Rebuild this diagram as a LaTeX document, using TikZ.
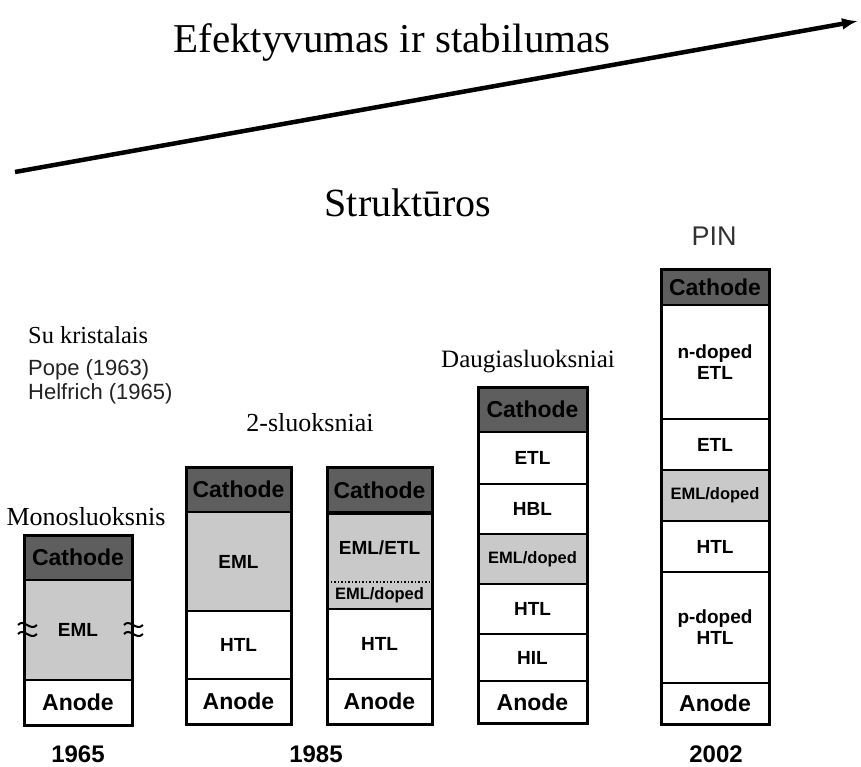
\documentclass[tikz,border=0pt]{standalone}
\usepackage{fontspec}
\setmainfont{Liberation Serif}
\newfontfamily\sansf{Liberation Sans}
\usetikzlibrary{arrows.meta}
\definecolor{cathgray}{HTML}{5E5E5E}
\definecolor{emlgray}{HTML}{C9C9C9}
\definecolor{txtgray}{HTML}{222222}
\newcommand\mklayer[7]{\node[#2, minimum width=#5pt, minimum height=#6pt, anchor=north west] (#1) at (#3,#4) {#7};}
\tikzset{
  layer/.style={draw=black, line width=2pt, inner sep=0pt, outer sep=0pt, align=center, text=black,
    font=\sansf\bfseries\fontsize{19}{21}\selectfont},
  cath/.style={layer, fill=cathgray, font=\sansf\bfseries\fontsize{23}{25}\selectfont},
  anod/.style={layer, fill=white, font=\sansf\bfseries\fontsize{23}{25}\selectfont},
  wl/.style={layer, fill=white},
  gl/.style={layer, fill=emlgray},
  gld/.style={layer, fill=emlgray, font=\sansf\bfseries\fontsize{16.5}{18}\selectfont},
  frame/.style={draw=black, line width=3pt},
  serif/.style={inner sep=0pt, anchor=base, font=\fontsize{26}{28}\selectfont},
  year/.style={inner sep=0pt, anchor=base, font=\sansf\bfseries\fontsize{24}{26}\selectfont},
  brk/.style={line width=2pt}
}
\begin{document}
\begin{tikzpicture}[x=1pt,y=-1pt]
\useasboundingbox (0,0) rectangle (861,767);
% arrow
\coordinate (a0) at (15,172);
\coordinate (a1) at (858,21);
\draw[line width=4.5pt, -{Latex[length=16pt,width=12pt]}] (a0) -- (a1);
\node[serif, font=\fontsize{41}{44}\selectfont] (title) at (392,53) {Efektyvumas ir stabilumas};
\node[serif, font=\fontsize{40}{42}\selectfont] (struk) at (408,217) {Struktūros};
\node[inner sep=0pt, anchor=base, text={rgb,255:red,50;green,50;blue,50}, font=\sansf\fontsize{27}{29}\selectfont] (pin) at (714,246) {PIN};
\node[serif, font=\fontsize{24.4}{26}\selectfont, anchor=base west] (sukr) at (28,343) {Su kristalais};
\node[inner sep=0pt, anchor=base west, text=txtgray, font=\sansf\fontsize{22}{24}\selectfont] (pope) at (28,375) {Pope (1963)};
\node[inner sep=0pt, anchor=base west, text=txtgray, font=\sansf\fontsize{22}{24}\selectfont] (helf) at (28,399) {Helfrich (1965)};
\node[serif, font=\fontsize{25}{27}\selectfont] (daug) at (528,367) {Daugiasluoksniai};
\node[serif] (dvi) at (310,431) {2-sluoksniai};
\node[serif] (mono) at (86,525) {Monosluoksnis};
% stack 1
\mklayer{s1c}{cath}{24}{535}{108}{45}{Cathode}
\mklayer{s1e}{gl}{24}{580}{108}{100}{EML}
\mklayer{s1a}{anod}{24}{680}{108}{45}{Anode}
\draw[frame] (s1c.north west) rectangle (s1a.south east);
% break marks
\foreach \yy in {625,634}{
  \draw[brk] (18,\yy) .. controls (24,\yy-7) and (30,\yy+7) .. (37,\yy);
  \draw[brk] (124,\yy) .. controls (130,\yy-7) and (136,\yy+7) .. (143,\yy);
}
% stack 2
\mklayer{s2c}{cath}{186}{467}{105}{45}{Cathode}
\mklayer{s2e}{gl}{186}{512}{105}{99}{EML}
\mklayer{s2h}{wl}{186}{611}{105}{68}{HTL}
\mklayer{s2a}{anod}{186}{679}{105}{45}{Anode}
\draw[frame] (s2c.north west) rectangle (s2a.south east);
% stack 3
\mklayer{s3c}{cath}{327}{467}{105}{46}{Cathode}
\mklayer{s3e}{gl, draw=none}{327}{513}{105}{69}{EML/ETL}
\mklayer{s3d}{gld, draw=none}{327}{582}{105}{27}{EML/doped}
\mklayer{s3h}{wl}{327}{609}{105}{70}{HTL}
\mklayer{s3a}{anod}{327}{679}{105}{45}{Anode}
\draw[line width=1.5pt, dotted] (s3d.north west) -- (s3d.north east);
\draw[line width=4pt] (s3c.south west) -- (s3c.south east);
\draw[line width=2pt] (s3h.north west) -- (s3h.north east);
\draw[frame] (s3c.north west) rectangle (s3a.south east);
% stack 4
\mklayer{s4c}{cath}{478}{387}{109}{45}{Cathode}
\mklayer{s4e}{wl}{478}{432}{109}{52}{ETL}
\mklayer{s4b}{wl}{478}{484}{109}{50}{HBL}
\mklayer{s4d}{gld}{478}{534}{109}{50}{EML/doped}
\mklayer{s4h}{wl}{478}{584}{109}{50}{HTL}
\mklayer{s4i}{wl}{478}{634}{109}{47}{HIL}
\mklayer{s4a}{anod}{478}{681}{109}{42}{Anode}
\draw[frame] (s4c.north west) rectangle (s4a.south east);
% stack 5
\mklayer{s5c}{cath}{661}{269}{108}{36}{Cathode}
\mklayer{s5n}{wl}{661}{305}{108}{114}{n-doped\\ETL}
\mklayer{s5e}{wl}{661}{419}{108}{51}{ETL}
\mklayer{s5d}{gld}{661}{470}{108}{51}{EML/doped}
\mklayer{s5h}{wl}{661}{521}{108}{51}{HTL}
\mklayer{s5p}{wl}{661}{572}{108}{111}{p-doped\\HTL}
\mklayer{s5a}{anod}{661}{683}{108}{41}{Anode}
\draw[frame] (s5c.north west) rectangle (s5a.south east);
% years
\node[year] (y1) at (78,762) {1965};
\node[year] (y2) at (316,762) {1985};
\node[year] (y3) at (716,762) {2002};
\end{tikzpicture}
\end{document}
